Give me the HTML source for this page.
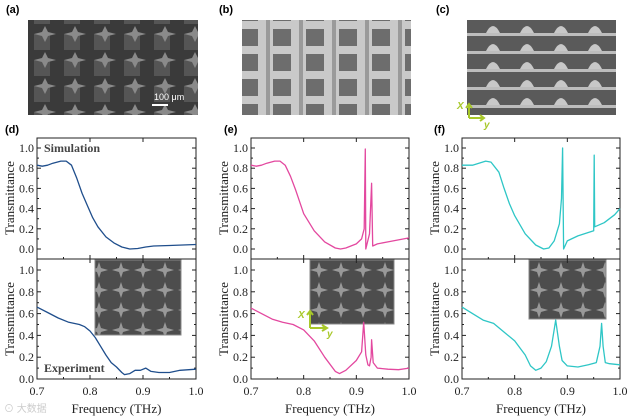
<!DOCTYPE html>
<html><head><meta charset="utf-8">
<style>
body{margin:0;background:#fff;width:629px;height:418px;overflow:hidden}
svg{display:block;font-family:"Liberation Serif",serif}
.lbl{font-family:"Liberation Sans",sans-serif;font-weight:bold;font-size:11px}
</style></head>
<body>
<svg id="fig" width="629" height="418" viewBox="0 0 629 418">
<defs>
<pattern id="starA" width="30" height="26" patternUnits="userSpaceOnUse">
<rect width="30" height="26" fill="#3a3a3a"/>
<rect x="4" y="8" width="16" height="16" fill="#555"/>
<path d="M15 0 L18 6 L26 8 L18 10 L15 16 L12 10 L4 8 L12 6Z" fill="#8a8a8a"/>
</pattern>
<pattern id="starB" width="33" height="25" patternUnits="userSpaceOnUse">
<rect width="33" height="25" fill="#c9c9c9"/>
<rect x="9" y="4" width="18" height="17" fill="#6d6d6d"/>
<rect x="2" y="0" width="4" height="25" fill="#9a9a9a"/>
</pattern>
<pattern id="starC" width="34" height="18" patternUnits="userSpaceOnUse">
<rect width="34" height="18" fill="#5a5a5a"/>
<path d="M10 15 Q17 1 24 15Z" fill="#c8c8c8"/>
<rect x="0" y="15" width="34" height="3" fill="#bdbdbd"/>
</pattern>
<pattern id="ins" width="22" height="20" patternUnits="userSpaceOnUse">
<rect width="22" height="20" fill="#4d4d4d"/>
<path d="M11 2 L13 8 L20 10 L13 12 L11 18 L9 12 L2 10 L9 8Z" fill="#999"/>
</pattern>
</defs>
<g>
<text class="lbl" x="6" y="13">(a)</text>
<rect x="28" y="20" width="170" height="95" fill="url(#starA)"/>
<rect x="152" y="104" width="16" height="2" fill="#fff"/>
<text x="154" y="100" font-family="Liberation Sans" font-size="9" fill="#fff">100 μm</text>
<text class="lbl" x="219" y="13">(b)</text>
<rect x="242" y="20" width="169" height="95" fill="url(#starB)"/>
<text class="lbl" x="436" y="13">(c)</text>
<rect x="467" y="20" width="149" height="95" fill="url(#starC)"/>
<g stroke="#a8c82a" stroke-width="2" fill="none">
<path d="M469 118 V104 M466 108 L469 104 L472 108"/><path d="M469 118 H483 M480 115 L484 118 L480 121"/>
</g>
<text x="457" y="109" font-family="Liberation Sans" font-style="italic" font-weight="bold" font-size="10" fill="#a8c82a">X</text>
<text x="484" y="128" font-family="Liberation Sans" font-style="italic" font-weight="bold" font-size="10" fill="#a8c82a">y</text>
</g>
<g id="plots"></g>
<text x="4" y="412" font-family="Liberation Sans" font-size="10" fill="#ccc">⊙ 大数据</text>
</svg>
<script>
const dSimF=[0.70,0.71,0.72,0.73,0.745,0.755,0.765,0.775,0.785,0.795,0.805,0.815,0.83,0.845,0.86,0.875,0.89,0.905,0.92,0.95,1.0];
const dSimT=[0.83,0.82,0.83,0.85,0.87,0.87,0.83,0.70,0.55,0.43,0.31,0.22,0.12,0.06,0.02,0.0,0.005,0.02,0.03,0.035,0.045];
const dExpF=[0.70,0.72,0.74,0.76,0.77,0.78,0.79,0.80,0.81,0.82,0.83,0.84,0.85,0.86,0.865,0.875,0.885,0.895,0.905,0.915,0.93,0.95,0.97,1.0];
const dExpT=[0.66,0.61,0.56,0.52,0.51,0.50,0.48,0.44,0.38,0.30,0.22,0.15,0.11,0.06,0.04,0.05,0.08,0.08,0.10,0.07,0.06,0.06,0.08,0.09];
const eSimF=[0.70,0.71,0.72,0.73,0.745,0.755,0.765,0.775,0.785,0.80,0.82,0.84,0.86,0.87,0.88,0.90,0.91,0.915,0.917,0.918,0.925,0.929,0.931,0.94,0.96,1.0];
const eSimT=[0.83,0.82,0.83,0.85,0.87,0.87,0.83,0.72,0.58,0.35,0.18,0.07,0.01,0.0,0.01,0.05,0.10,0.2,0.99,0.0,0.15,0.65,0.03,0.05,0.07,0.11];
const eExpF=[0.70,0.72,0.74,0.76,0.78,0.80,0.82,0.84,0.86,0.868,0.88,0.90,0.91,0.914,0.918,0.922,0.925,0.928,0.929,0.932,0.94,0.96,0.98,1.0];
const eExpT=[0.65,0.60,0.55,0.52,0.50,0.45,0.35,0.20,0.07,0.05,0.08,0.17,0.25,0.52,0.22,0.13,0.12,0.2,0.36,0.15,0.10,0.09,0.085,0.10];
const fSimF=[0.70,0.72,0.745,0.755,0.77,0.78,0.79,0.80,0.82,0.84,0.855,0.865,0.875,0.885,0.889,0.891,0.893,0.90,0.92,0.95,0.951,0.952,0.97,0.99,1.0];
const fSimT=[0.83,0.83,0.87,0.86,0.76,0.60,0.45,0.33,0.15,0.04,0.0,0.01,0.08,0.25,0.5,1.0,0.0,0.08,0.13,0.18,0.93,0.22,0.26,0.34,0.40];
const fExpF=[0.70,0.72,0.74,0.76,0.78,0.80,0.82,0.83,0.84,0.85,0.86,0.87,0.878,0.885,0.89,0.90,0.92,0.94,0.955,0.962,0.965,0.968,0.972,0.98,1.0];
const fExpT=[0.66,0.60,0.54,0.51,0.43,0.35,0.22,0.12,0.08,0.10,0.16,0.30,0.54,0.30,0.17,0.12,0.11,0.13,0.15,0.30,0.51,0.3,0.15,0.14,0.13];
const xTicks=[0.7,0.8,0.9,1.0];
const yTicks=[0.0,0.2,0.4,0.6,0.8,1.0];

const NS="http://www.w3.org/2000/svg";
const root=document.getElementById('plots');
function mk(tag,attrs,parent){const e=document.createElementNS(NS,tag);for(const k in attrs)e.setAttribute(k,attrs[k]);(parent||root).appendChild(e);return e;}
const panels=[
 {id:'d',x0:37,x1:196,lx:5,color:'#1f4e8c',sim:[dSimF,dSimT],exp:[dExpF,dExpT],ins:[95,260,86,75]},
 {id:'e',x0:251,x1:409,lx:224,color:'#e3489f',sim:[eSimF,eSimT],exp:[eExpF,eExpT],ins:[310,260,84,64]},
 {id:'f',x0:462,x1:620,lx:434,color:'#2ec6c6',sim:[fSimF,fSimT],exp:[fExpF,fExpT],ins:[529,260,77,59]}
];
const TOP=138,MID=259,BOT=379;
panels.forEach(p=>{
 const g=mk('g',{});
 
 
 const xs=v=>p.x0+(v-0.7)/0.3*(p.x1-p.x0);
 const ysT=v=>249-v*101;
 const ysB=v=>379-v*109;
 const lab=mk('text',{x:p.lx,y:133,'class':'lbl'},g);lab.textContent='('+p.id+')';
 
 
 const r=mk('rect',{x:p.ins[0],y:p.ins[1],width:p.ins[2],height:p.ins[3],fill:'url(#ins)',stroke:'#888'},g);
 
 
 mk('rect',{x:p.x0,y:TOP,width:p.x1-p.x0,height:BOT-TOP,fill:'none',stroke:'#222','stroke-width':1},g);
 mk('line',{x1:p.x0,x2:p.x1,y1:MID,y2:MID,stroke:'#222'},g);
 [[ysT,true],[ysB,false]].forEach(([ys,top])=>{
  yTicks.forEach(t=>{
   const y=ys(t);
   mk('line',{x1:p.x0,x2:p.x0+4,y1:y,y2:y,stroke:'#222'},g);
   mk('line',{x1:p.x1,x2:p.x1-4,y1:y,y2:y,stroke:'#222'},g);
   const m=ys(t+0.1);
   if(t<1.0){mk('line',{x1:p.x0,x2:p.x0+2,y1:m,y2:m,stroke:'#222'},g);mk('line',{x1:p.x1,x2:p.x1-2,y1:m,y2:m,stroke:'#222'},g);}
   const tx=mk('text',{x:p.x0-3,y:y+4,'text-anchor':'end','font-size':12,fill:'#222'},g);
   tx.textContent=t.toFixed(1);
   
   
  });
  const yt=mk('text',{transform:`translate(${p.x0-23},${top?198:319}) rotate(-90)`,'text-anchor':'middle','font-size':13,fill:'#222'},g);
  yt.textContent='Transmittance';
  
  
 });
 xTicks.forEach(t=>{
  const x=xs(t);
  [BOT,MID].forEach(y=>{mk('line',{x1:x,x2:x,y1:y,y2:y-4,stroke:'#222'},g);});
  [TOP,MID].forEach(y=>{mk('line',{x1:x,x2:x,y1:y,y2:y+4,stroke:'#222'},g);});
  if(t<1){const m=xs(t+0.05);[BOT,MID].forEach(y=>mk('line',{x1:m,x2:m,y1:y,y2:y-2,stroke:'#222'},g));}
  const tx=mk('text',{x:x,y:395,'text-anchor':'middle','font-size':12,fill:'#222'},g);
  tx.textContent=t.toFixed(1);
  
  
 });
 const xt=mk('text',{x:(p.x0+p.x1)/2,y:413,'text-anchor':'middle','font-size':13,fill:'#222'},g);
 xt.textContent='Frequency (THz)';
 
 
 const line=(F,T,ys)=>F.map((f,i)=>(i?'L':'M')+xs(f).toFixed(1)+' '+ys(T[i]).toFixed(1)).join(' ');
 const s=mk('path',{d:line(p.sim[0],p.sim[1],ysT),fill:'none',stroke:p.color,'stroke-width':1.3,'stroke-linejoin':'round'},g);
 
 
 const e=mk('path',{d:line(p.exp[0],p.exp[1],ysB),fill:'none',stroke:p.color,'stroke-width':1.3,'stroke-linejoin':'round'},g);
 
 
 if(p.id==='d'){
  const a=mk('text',{x:44,y:152,'font-size':12,'font-weight':'bold',fill:'#444'},g);a.textContent='Simulation';
  
  const b=mk('text',{x:44,y:372,'font-size':12,'font-weight':'bold',fill:'#444'},g);b.textContent='Experiment';
  
 }
 if(p.id==='e'){
  mk('path',{d:'M310 328 V311 M307 315 L310 311 L313 315 M310 328 H326 M322 325 L327 328 L322 331',stroke:'#a8c82a','stroke-width':2,fill:'none'},g);
  const X=mk('text',{x:298,y:318,'font-family':'Liberation Sans','font-style':'italic','font-weight':'bold','font-size':10,fill:'#a8c82a'},g);X.textContent='X';
  const Y=mk('text',{x:327,y:337,'font-family':'Liberation Sans','font-style':'italic','font-weight':'bold','font-size':10,fill:'#a8c82a'},g);Y.textContent='y';
 }
});
</script>
</body></html>
